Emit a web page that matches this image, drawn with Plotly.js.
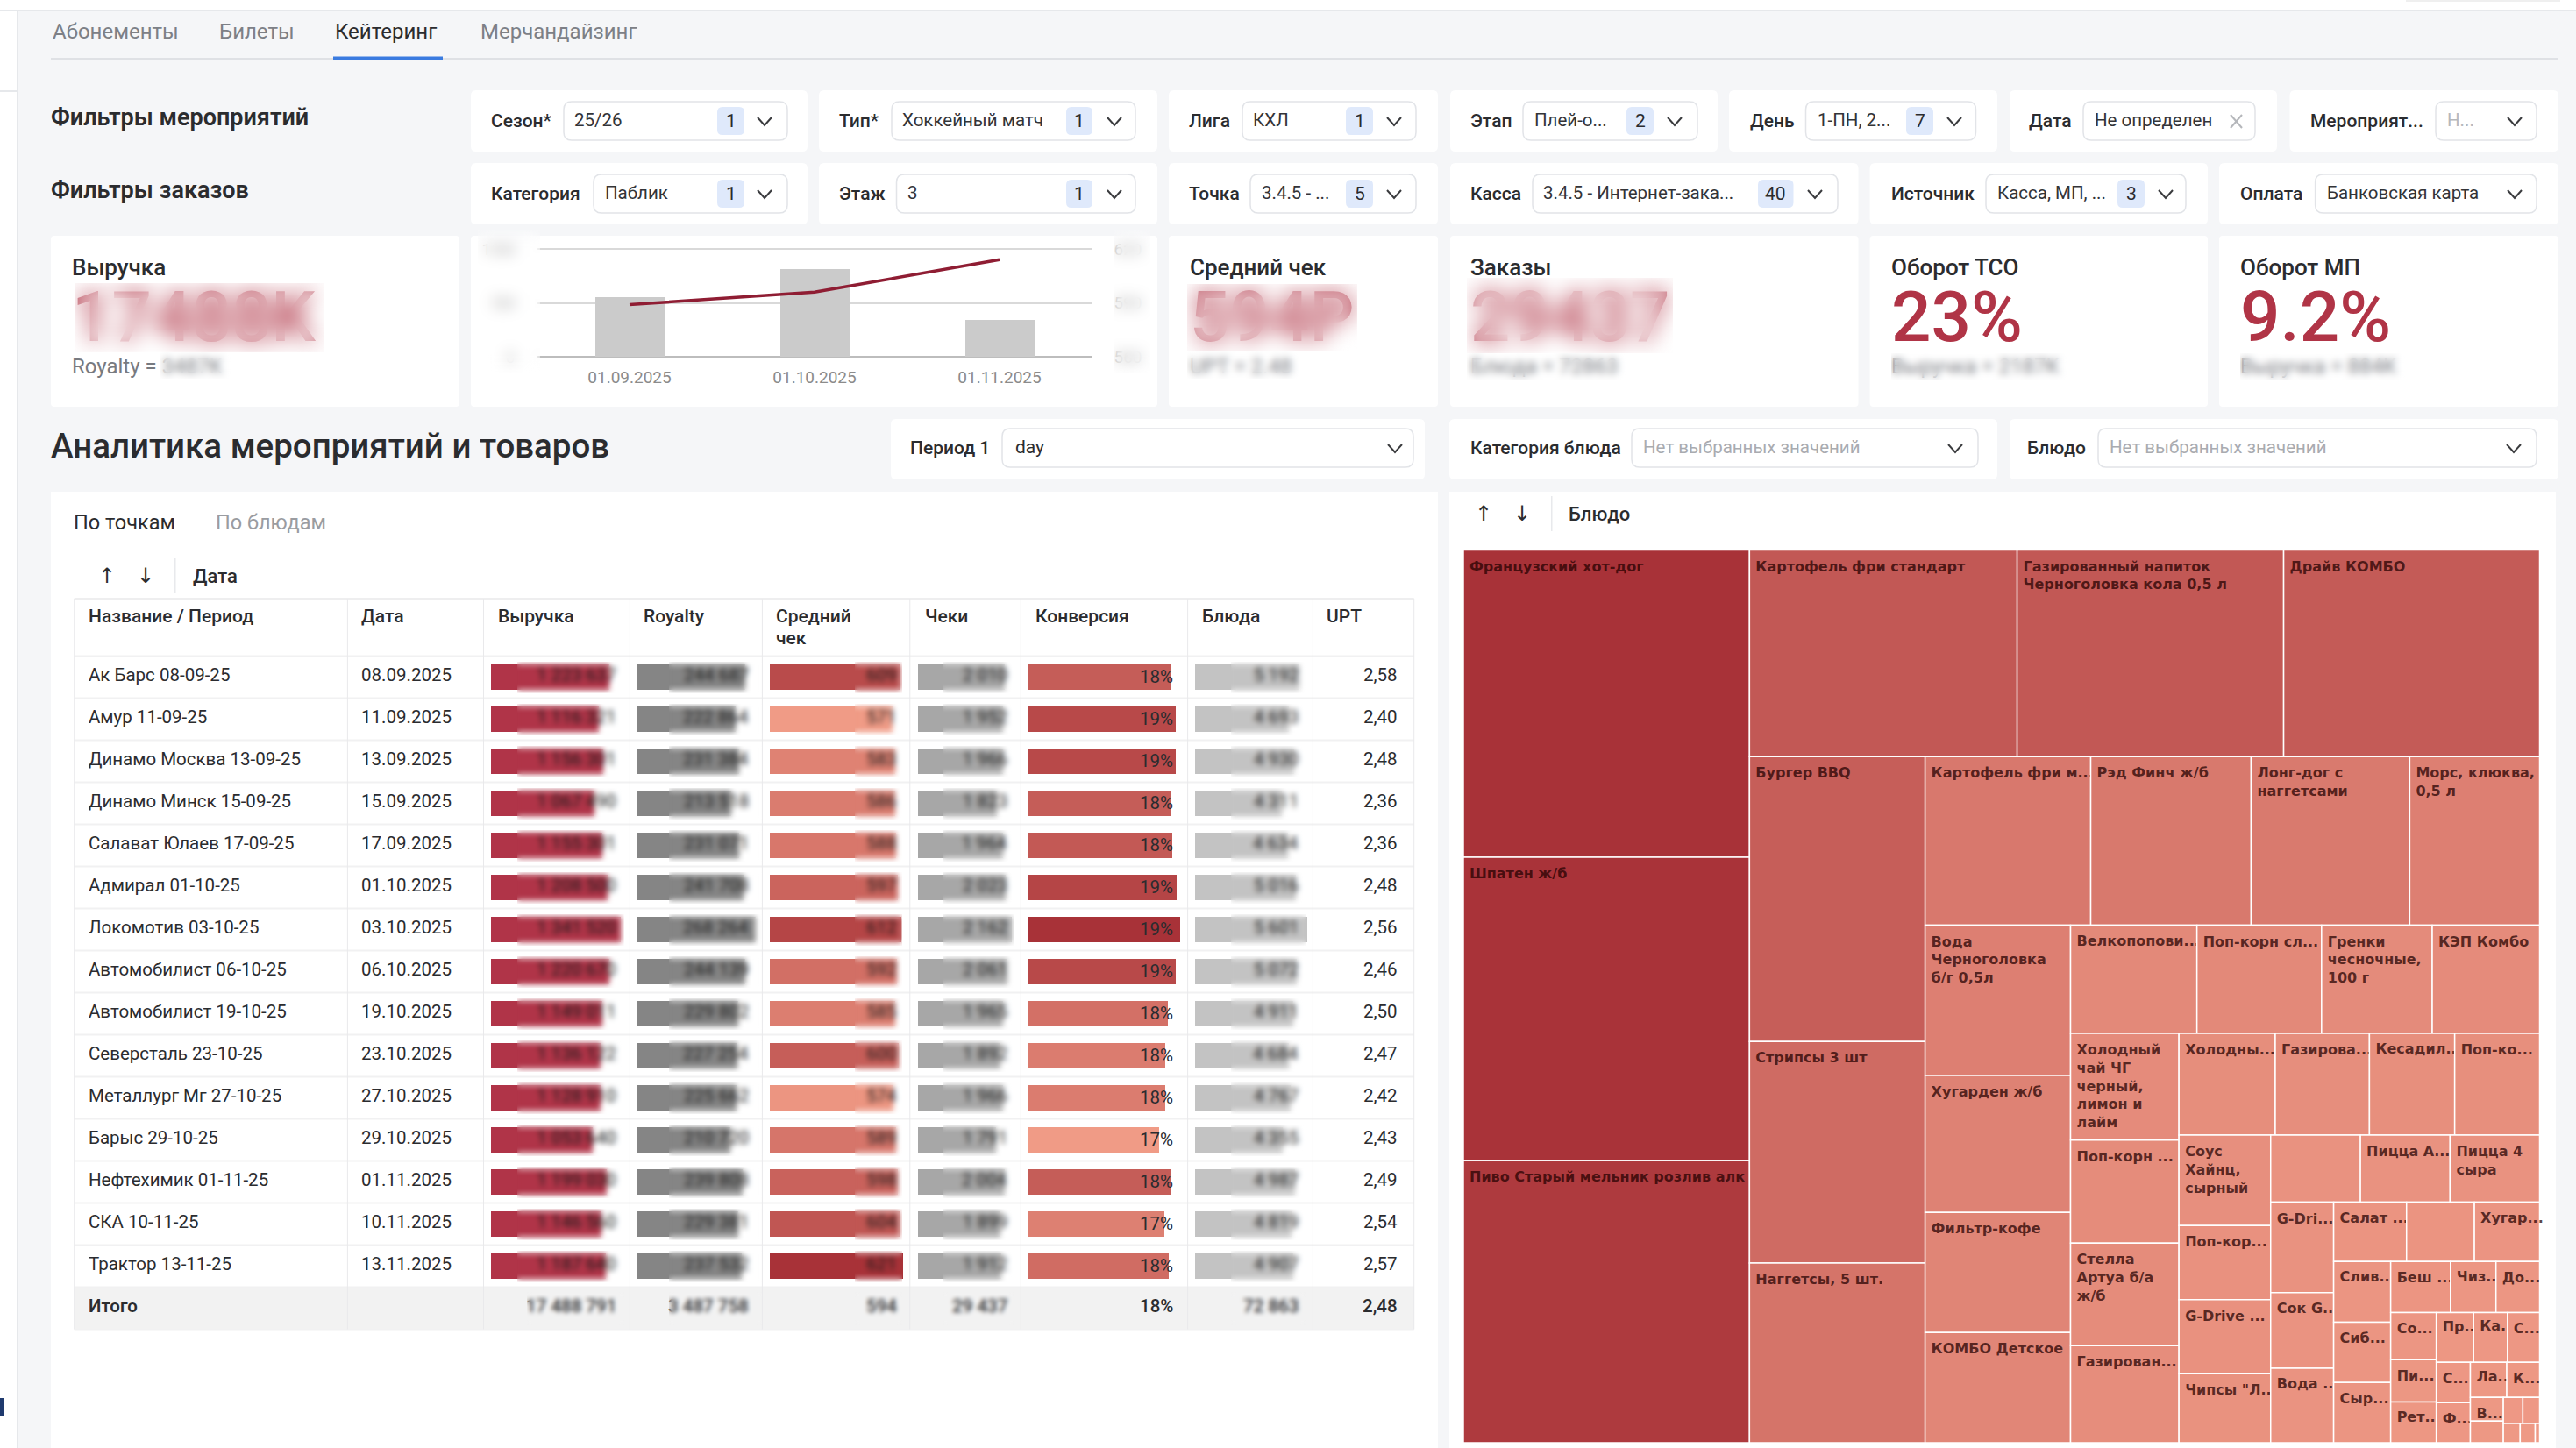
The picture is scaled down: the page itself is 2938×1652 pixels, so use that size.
<!DOCTYPE html>
<html lang="ru"><head><meta charset="utf-8">
<script src="https://cdn.plot.ly/plotly-3.0.1.min.js"></script>
<style>
html,body{margin:0;padding:0;background:#f5f6f8;overflow:hidden}
#wrap{position:relative;width:2938px;height:1652px;overflow:hidden}
#chart{position:absolute;left:0;top:0;width:2938px;height:1652px}
.patch{position:absolute;pointer-events:none}
</style></head><body><div id="wrap"><div id="chart"></div></div>
<script>
/* ---------- data ---------- */
const tabLabels=["Абонементы","Билеты","Кейтеринг","Мерчандайзинг"];
const eventFilterLabels=["Сезон*","Тип*","Лига","Этап","День","Дата","Мероприят..."];
const eventFilterValues=["25/26","Хоккейный матч","КХЛ","Плей-о...","1-ПН, 2...","Не определен","Н..."];
const eventFilterCounts=["1","1","1","2","7","",""];
const orderFilterLabels=["Категория","Этаж","Точка","Касса","Источник","Оплата"];
const orderFilterValues=["Паблик","3","3.4.5 - ...","3.4.5 - Интернет-зака...","Касса, МП, ...","Банковская карта"];
const orderFilterCounts=["1","1","5","40","3",""];

const monthLabels=["01.09.2025","01.10.2025","01.11.2025"];
const monthRevenue=[5500000,8100000,3400000];
const monthCheck=[589,596,614];

const eventNames=["Ак Барс 08-09-25","Амур 11-09-25","Динамо Москва 13-09-25","Динамо Минск 15-09-25","Салават Юлаев 17-09-25","Адмирал 01-10-25","Локомотив 03-10-25","Автомобилист 06-10-25","Автомобилист 19-10-25","Северсталь 23-10-25","Металлург Мг 27-10-25","Барыс 29-10-25","Нефтехимик 01-11-25","СКА 10-11-25","Трактор 13-11-25"];
const eventDates=["08.09.2025","11.09.2025","13.09.2025","15.09.2025","17.09.2025","01.10.2025","03.10.2025","06.10.2025","19.10.2025","23.10.2025","27.10.2025","29.10.2025","01.11.2025","10.11.2025","13.11.2025"];
const revenue=[1223637,1116321,1156301,1067490,1155301,1208500,1341520,1220670,1149011,1136122,1128910,1053640,1199030,1146560,1187640];
const royalty=[244687,222864,231384,213518,231071,241708,268264,244139,229802,227254,225662,210720,239808,229381,237532];
const avgCheck=[609,571,583,586,588,597,612,592,585,600,574,589,598,604,621];
const checks=[2010,1952,1966,1823,1964,2023,2162,2061,1965,1892,1966,1791,2004,1899,1912];
const conversion=[18.3,18.8,18.8,18.3,18.4,18.9,19.4,18.8,17.8,17.5,17.5,16.7,18.3,17.4,17.9];
const dishes=[5192,4693,4930,4311,4634,5016,5601,5072,4911,4684,4767,4355,4987,4819,4907];
const upt=["2,58","2,40","2,48","2,36","2,36","2,48","2,56","2,46","2,50","2,47","2,42","2,43","2,49","2,54","2,57"];
const totalCells=["17 488 791","3 487 758","594","29 437","18%","72 863","2,48"];

const dishLabels=["Французский хот-дог","Шпатен ж/б","Пиво Старый мельник розлив алк","Картофель фри стандарт","Газированный напиток Черноголовка кола 0,5 л","Драйв КОМБО","Бургер BBQ","Стрипсы 3 шт","Наггетсы, 5 шт.","Картофель фри м","Рэд Финч ж/б","Лонг-дог с наггетсами","Морс, клюква, 0,5 л","Вода Черноголовка б/г 0,5л","Хугарден ж/б","Фильтр-кофе","КОМБО Детское","Велкопопови","Поп-корн сл","Гренки чесночные, 100 г","КЭП Комбо","Холодный чай ЧГ черный, лимон и лайм","Поп-корн","Стелла Артуа б/а ж/б","Газирован","Холодны","Газирова","Кесадил","Поп-ко","Соус Хайнц, сырный","Поп-кор","G-Drive","Чипсы Л","Без подписи 1","Пицца А","Пицца 4 сыра","G-Dri","Сок G","Вода","Салат","Без подписи 2","Хугар","Слив","Сиб","Сыр","Беш","Чиз","До","Со","Пи","Рет","Пр","Ка","С1","С2","Ф","Ла","К","В","Без подписи 3","Без подписи 4","Без подписи 5","Без подписи 6","Без подписи 7","Без подписи 8"];
const dishTexts=["Французский хот-дог","Шпатен ж/б","Пиво Старый мельник розлив алк","Картофель фри стандарт","Газированный напиток<br>Черноголовка кола 0,5 л","Драйв КОМБО","Бургер BBQ","Стрипсы 3 шт","Наггетсы, 5 шт.","Картофель фри м...","Рэд Финч ж/б","Лонг-дог с<br>наггетсами","Морс, клюква,<br>0,5 л","Вода<br>Черноголовка<br>б/г 0,5л","Хугарден ж/б","Фильтр-кофе","КОМБО Детское","Велкопопови...","Поп-корн сл...","Гренки<br>чесночные,<br>100 г","КЭП Комбо","Холодный<br>чай ЧГ<br>черный,<br>лимон и<br>лайм","Поп-корн ...","Стелла<br>Артуа б/а<br>ж/б","Газирован...","Холодны...","Газирова...","Кесадил...","Поп-ко...","Соус<br>Хайнц,<br>сырный","Поп-кор...","G-Drive ...","Чипсы \"Л...","","Пицца А...","Пицца 4<br>сыра","G-Dri...","Сок G...","Вода ...","Салат ...","","Хугар...","Слив...","Сиб...","Сыр...","Беш ...","Чиз...","До...","Со...","Пи...","Рет...","Пр...","Ка...","С...","С...","Ф...","Ла...","К...","В...","","","","","",""];
const dishValues=[114263,112796,104972,71900,71600,68766,65000,50600,41000,36288,35136,34752,28450,28400,25917,22673,20853,17774,17528,15560,15100,15043,14500,14450,13686,12738,12460,11279,11233,10774,8840,8830,8216,7820,7810,7800,7400,6192,6106,5615,5226,5025,4500,4480,4460,3968,3025,2898,2800,2500,2420,2410,2190,2079,1790,1770,1663,1498,1014,931,658,566,424,380,110];

/* ---------- page geometry ---------- */
const W=2938,H=1652,fx=x=>x/W,fy=y=>1-y/H;
const FONT="Roboto, sans-serif",INK="#2b2c2f",GREY="#85888d",RED="#b03446";
const shapes=[],annotations=[];
function rect(x0,y0,x1,y1,fill){shapes.push({type:'rect',xref:'paper',yref:'paper',x0:fx(x0),x1:fx(x1),y0:fy(y0),y1:fy(y1),fillcolor:fill,line:{width:0},layer:'below'});}
function rr(x0,y0,x1,y1,r,fill,stroke){const X=fx,Y=fy;
 const p=`M${X(x0+r)},${Y(y0)} L${X(x1-r)},${Y(y0)} Q${X(x1)},${Y(y0)} ${X(x1)},${Y(y0+r)} L${X(x1)},${Y(y1-r)} Q${X(x1)},${Y(y1)} ${X(x1-r)},${Y(y1)} L${X(x0+r)},${Y(y1)} Q${X(x0)},${Y(y1)} ${X(x0)},${Y(y1-r)} L${X(x0)},${Y(y0+r)} Q${X(x0)},${Y(y0)} ${X(x0+r)},${Y(y0)} Z`;
 shapes.push({type:'path',xref:'paper',yref:'paper',path:p,fillcolor:fill,line:{color:stroke||fill,width:stroke?1.5:0},layer:'below'});}
function seg(pts,color,w){const p=pts.map((q,i)=>(i?'L':'M')+fx(q[0])+','+fy(q[1])).join(' ');
 shapes.push({type:'path',xref:'paper',yref:'paper',path:p,line:{color:color,width:w},fillcolor:'rgba(0,0,0,0)',layer:'below'});}
function txt(x,y,t,o={}){const a=o.a||'left';annotations.push({xref:'paper',yref:o.yref||'paper',x:fx(a=='left'?x-1.5:x),y:o.yref?y:fy(y),yshift:o.yshift||0,text:t,showarrow:false,xanchor:a,yanchor:'middle',align:a,borderpad:0,
 font:{family:o.family||FONT,size:o.size||21,color:o.color||INK,weight:o.weight||400}});}
function chev(cx,cy){seg([[cx-8,cy-4],[cx,cy+5],[cx+8,cy-4]],'#3a3b3e',2);}

/* page frame */
rect(0,0,W,11,'#ffffff');rect(0,0,19,H,'#ffffff');rect(19,11,21,H,'#e6e8eb');rect(0,11,W,13,'#e6e8eb');rect(0,103,19,105,'#e6e8eb');rect(0,1595,4,1615,'#1f3a6e');rect(2744,0,2920,2,'#efefef');

/* tabs */
const tabX=[60,250,382,548];
tabLabels.forEach((t,i)=>txt(tabX[i],36,t,{size:24,color:i==2?'#2b2c2f':'#7d8086'}));
rect(58,66,2918,68.5,'#dfe1e5');rect(380,64.5,505,68.5,'#3a7be0');

txt(58,134,"Фильтры мероприятий",{size:27,weight:600});
txt(58,217,"Фильтры заказов",{size:27,weight:600});

/* filter cards: card x0,x1, label x, box x0,x1, value x, badge x0,x1, chevron x */
const eventFilterBoxes=[[537,921,560,643,898,655,818,849,872],[934,1320,958,1017,1295,1029,1216,1246,1271],[1333,1640,1356,1417,1615,1429,1535,1566,1590],[1654,1959,1677,1737,1936,1750,1855,1886,1910],[1972,2278,1996,2059.5,2253.5,2073,2174,2205,2229],[2292,2597,2314,2376,2572,2389,0,0,0],[2611.5,2918,2635,2778,2893,2791,0,0,2868]];
const orderFilterBoxes=[[537,921,560,677,898,690,818,849,872],[934,1320,958,1022.5,1295,1035.6,1216,1246,1271],[1333,1640,1356,1426,1615,1439.5,1535,1566,1590],[1654,2119.5,1677,1748,2096,1760.5,2005,2045.5,2070],[2132.6,2518,2157,2265,2493,2278,2415,2446,2470],[2531,2918,2555,2640.6,2893,2654,0,0,2868]];
function filterRow(labels,values,counts,boxes,top,cy){labels.forEach((l,i)=>{const b=boxes[i];
  rr(b[0],top,b[1],top+70,6,'#ffffff');
  rr(b[3],cy-22,b[4],cy+22,9,'#ffffff','#e2e4e8');
  txt(b[2],cy,l,{size:21,weight:500});
  const muted=values[i]=="Н...";
  txt(b[5],cy-1,values[i],{size:20.5,color:muted?'#b5b7bb':'#333438'});
  if(counts[i]){rr(b[6],cy-16,b[7],cy+16,6,'#dfe9fb');txt((b[6]+b[7])/2,cy,counts[i],{size:21,a:'center'});}
  if(b[8])chev(b[8],cy);
 });}
filterRow(eventFilterLabels,eventFilterValues,eventFilterCounts,eventFilterBoxes,103,138);
filterRow(orderFilterLabels,orderFilterValues,orderFilterCounts,orderFilterBoxes,186,221);
seg([[2544,131],[2557,146]],'#b5b7bb',2);seg([[2557,131],[2544,146]],'#b5b7bb',2);

/* KPI cards */
[[58,524],[537,1320],[1333,1640],[1654,2119.5],[2132.6,2518],[2531,2918]].forEach(c=>rr(c[0],269,c[1],464,4,'#ffffff'));
const kpiTitles=["Выручка","Средний чек","Заказы","Оборот ТСО","Оборот МП"];
const kpiValues=["17488K","594Р","29437","23%","9.2%"];
const kpiNotes=["Royalty = 3487K","UPT = 2.48","Блюда = 72863","Выручка = 2187K","Выручка = 884K"];
const kpiX=[82.5,1357,1677,2157,2555];
kpiTitles.forEach((t,i)=>{txt(kpiX[i],305,t,{size:26,weight:500});
  txt(kpiX[i],362,kpiValues[i],{size:80,color:RED,weight:500});
  txt(kpiX[i],418,kpiNotes[i],{size:24,color:'#777a80'});});

/* section heading + selectors */
txt(58,509,"Аналитика мероприятий и товаров",{size:38.5,weight:500});
rr(1016,478,1625,547,6,'#ffffff');rr(1653,478,2278,547,6,'#ffffff');rr(2292,478,2918,547,6,'#ffffff');
rr(1143,489,1612,533,9,'#ffffff','#e2e4e8');rr(1861,489,2256,533,9,'#ffffff','#e2e4e8');rr(2393,489,2893,533,9,'#ffffff','#e2e4e8');
txt(1038,511,"Период 1",{weight:500});txt(1158,510,"day");chev(1591,511);
txt(1677,511,"Категория блюда",{weight:500});txt(1874,510,"Нет выбранных значений",{size:20.5,color:'#a9abb0'});chev(2230,511);
txt(2312,511,"Блюдо",{weight:500});txt(2406,510,"Нет выбранных значений",{size:20.5,color:'#a9abb0'});chev(2867,511);

/* table + treemap cards */
rect(58,561,1640,1652,'#ffffff');rect(1653,561,2915,1652,'#ffffff');
txt(84,596,"По точкам",{size:23.5});txt(246,596,"По блюдам",{size:23.5,color:'#9a9ca1'});
const ARROW="DejaVu Sans, sans-serif";
txt(121.5,657,"↑",{size:24,a:'center',family:ARROW});txt(166,657,"↓",{size:24,a:'center',family:ARROW});rect(199,637,200.5,676,'#e8e9ec');txt(220,657,"Дата",{size:22,weight:500});
txt(1692,586,"↑",{size:24,a:'center',family:ARROW});txt(1736,586,"↓",{size:24,a:'center',family:ARROW});rect(1769,566,1770.5,606,'#e8e9ec');txt(1789,586,"Блюдо",{size:22,weight:500});

/* table frame */
const colEdges=[84.7,396.4,551.5,718.4,869.4,1037.8,1164.3,1354.6,1497.4,1612.7];
const headerX=[101,412.8,568,734.7,885.7,1055,1181,1371.4,1513.8];
const headerText=["Название / Период","Дата","Выручка","Royalty","Средний<br>чек","Чеки","Конверсия","Блюда","UPT"];
const ROW0=748.6,ROWH=48,NR=eventNames.length;
rect(colEdges[0],ROW0+NR*ROWH,colEdges[9],ROW0+(NR+1)*ROWH,'#f2f2f2');
for(let i=0;i<=NR+1;i++)rect(colEdges[0],ROW0+i*ROWH-1,colEdges[9],ROW0+i*ROWH+1,'#f1f1f2');
rect(colEdges[0],682,colEdges[9],684,'#eeeeef');
colEdges.forEach(x=>rect(x-.5,683,x+.5,ROW0+(NR+1)*ROWH,'#e9e9eb'));
headerText.forEach((t,i)=>{if(t.includes('<br>')){const p=t.split('<br>');txt(headerX[i],703,p[0],{weight:500});txt(headerX[i],728,p[1],{weight:500});}else txt(headerX[i],703,t,{weight:500});});

/* ---------- traces ---------- */
const traces=[];
const layout={width:W,height:H,margin:{l:0,r:0,t:0,b:0},paper_bgcolor:'#f5f6f8',plot_bgcolor:'rgba(0,0,0,0)',showlegend:false,shapes,annotations,bargap:0,hovermode:false,font:{family:FONT}};

/* mini combo chart */
traces.push({type:'bar',x:monthLabels,y:monthRevenue,xaxis:'x',yaxis:'y',marker:{color:'#cbcbcb'},width:79/211});
traces.push({type:'scatter',mode:'lines',x:monthLabels,y:monthCheck,xaxis:'x',yaxis:'y2',line:{color:'#8f1d33',width:3.5}});
layout.xaxis={domain:[fx(612.5),fx(1245.5)],anchor:'y',type:'category',range:[-0.5,2.5],showgrid:true,gridcolor:'#e4e4e4',gridwidth:1,tickfont:{size:19,color:'#8b8b8b'},ticks:'',ticklabelstandoff:10,showline:false,zeroline:false};
layout.yaxis={domain:[fy(407),fy(282.8)],anchor:'x',range:[0,10100000],tickvals:[0,5000000,10000000],ticktext:['0','5M','10M'],gridcolor:'#d9d9d9',gridwidth:2,zeroline:true,zerolinecolor:'#bdbdbd',zerolinewidth:2.5,tickfont:{size:19,color:'#b0b0b0'},ticklabelstandoff:24,layer:'below traces'};
layout.yaxis2={domain:[fy(407),fy(282.8)],anchor:'x',overlaying:'y',side:'right',range:[560,620.6],tickvals:[560,590,620],showgrid:false,zeroline:false,tickfont:{size:19,color:'#b0b0b0'},ticklabelstandoff:24};

/* table bars */
const heat=[[0,'#F09B86'],[1,'#A83238']];
const barCols=[
 {v:revenue,x0:560,w:148,color:'#b03448'},
 {v:royalty,x0:727,w:134.7,color:'#858585'},
 {v:avgCheck,x0:878,w:152,heat:true,min:Math.min(...avgCheck)},
 {v:checks,x0:1047,w:107,color:'#a7a7a7'},
 {v:conversion,x0:1173,w:173,heat:true,min:Math.min(...conversion)},
 {v:dishes,x0:1363,w:128,color:'#c3c3c3'}];
barCols.forEach((c,k)=>{const n=k+3,xa='x'+n,ya='y'+n,mx=Math.max(...c.v);
 traces.push({type:'bar',orientation:'h',y:eventNames,x:c.v,xaxis:xa,yaxis:ya,width:0.617,
  marker:c.heat?{color:c.v,cmin:c.min,cmax:mx,colorscale:heat}:{color:c.color}});
 layout['xaxis'+n]={domain:[fx(c.x0),fx(c.x0+c.w)],anchor:ya,range:[0,mx],visible:false};
 layout['yaxis'+n]={domain:[fy(ROW0+NR*ROWH),fy(ROW0)],anchor:xa,type:'category',categoryorder:'array',categoryarray:eventNames,range:[NR-.5,-.5],visible:false};
});

/* table text */
const fmt=n=>String(n).replace(/\B(?=(\d{3})+(?!\d))/g,' ');
const cellRight=[704,855,1024,1150,1339,1482,1595];
const BODY=20.5;
eventNames.forEach((n,i)=>{const o={yref:'y3',yshift:2.5,size:BODY};
 txt(101,i,n,o);txt(412.8,i,eventDates[i],o);
 txt(cellRight[0],i,fmt(revenue[i]),{...o,a:'right',color:'#1a1a1a'});
 txt(cellRight[1],i,fmt(royalty[i]),{...o,a:'right',color:'#1a1a1a'});
 txt(cellRight[2],i,String(avgCheck[i]),{...o,a:'right',color:'#1a1a1a'});
 txt(cellRight[3],i,fmt(checks[i]),{...o,a:'right',color:'#1a1a1a'});
 txt(cellRight[4],i,Math.round(conversion[i])+'%',{...o,a:'right',yshift:1,size:20.5});
 txt(cellRight[5],i,fmt(dishes[i]),{...o,a:'right',color:'#1a1a1a'});
 txt(cellRight[6],i,upt[i],{...o,a:'right'});
});
txt(101,1490,"Итого",{weight:600,size:BODY});
totalCells.forEach((t,i)=>txt(cellRight[i],1490,t,{a:'right',weight:500,size:BODY}));

/* treemap */
traces.push({type:'treemap',labels:dishLabels,parents:dishLabels.map(()=>""),values:dishValues,text:dishTexts,textinfo:'text',textposition:'top left',
 domain:{x:[fx(1669),fx(2896.5)],y:[fy(1646),fy(627.5)]},branchvalues:'remainder',sort:true,
 tiling:{packing:'squarify',squarifyratio:1,pad:0},pathbar:{visible:false},leaf:{opacity:1},
 marker:{colors:dishValues,colorscale:[[0,'#EE9985'],[1,'#A83238']],cmin:0,cmax:Math.max(...dishValues),showscale:false,line:{color:'#ffffff',width:1.5},pad:{t:0,l:0,r:0,b:0}},
 textfont:{family:"DejaVu Sans, sans-serif",size:16,color:'rgba(35,0,0,0.74)',weight:700},hoverinfo:'skip'});

/* masked (blurred) figures in the original screenshot */
const blurPatches=[[86,323,370,402,13],[183,402,269,432,4],[1354,324,1548,400,13],[1354,400,1483,432,4],[1673,317,1908,403,13],[1673,403,1854,434,4],[2157,403,2360,434,4],[2555,403,2746,434,4],[545,262,616,425,8],[1270,262,1312,425,8]];
const blurCols=[[590,712],[763,869],[975,1029],[1075,1157],[1404,1489]];
for(let i=0;i<NR;i++)blurCols.forEach(c=>blurPatches.push([c[0],ROW0+24+i*ROWH-18,c[1],ROW0+24+i*ROWH+18,3]));
[[601,712],[763,869],[975,1029],[1075,1157],[1404,1489]].forEach(c=>blurPatches.push([c[0],1474,c[1],1512,2.5]));

Plotly.newPlot('chart',traces,layout,{displayModeBar:false,staticPlot:true,responsive:false}).then(()=>{
 const wrap=document.getElementById('wrap');
 document.querySelectorAll('.slicetext text').forEach(t=>{const tr=t.getAttribute('transform')||'';
   t.setAttribute('transform','translate(4,6) '+tr.replace(/\s*scale\([^)]*\)/,''));});
 blurPatches.forEach(p=>{const d=document.createElement('div');d.className='patch';
  d.style.cssText=`left:${p[0]}px;top:${p[1]}px;width:${p[2]-p[0]}px;height:${p[3]-p[1]}px;backdrop-filter:blur(${p[4]}px);-webkit-backdrop-filter:blur(${p[4]}px)`;
  wrap.appendChild(d);});
});
</script></body></html>
